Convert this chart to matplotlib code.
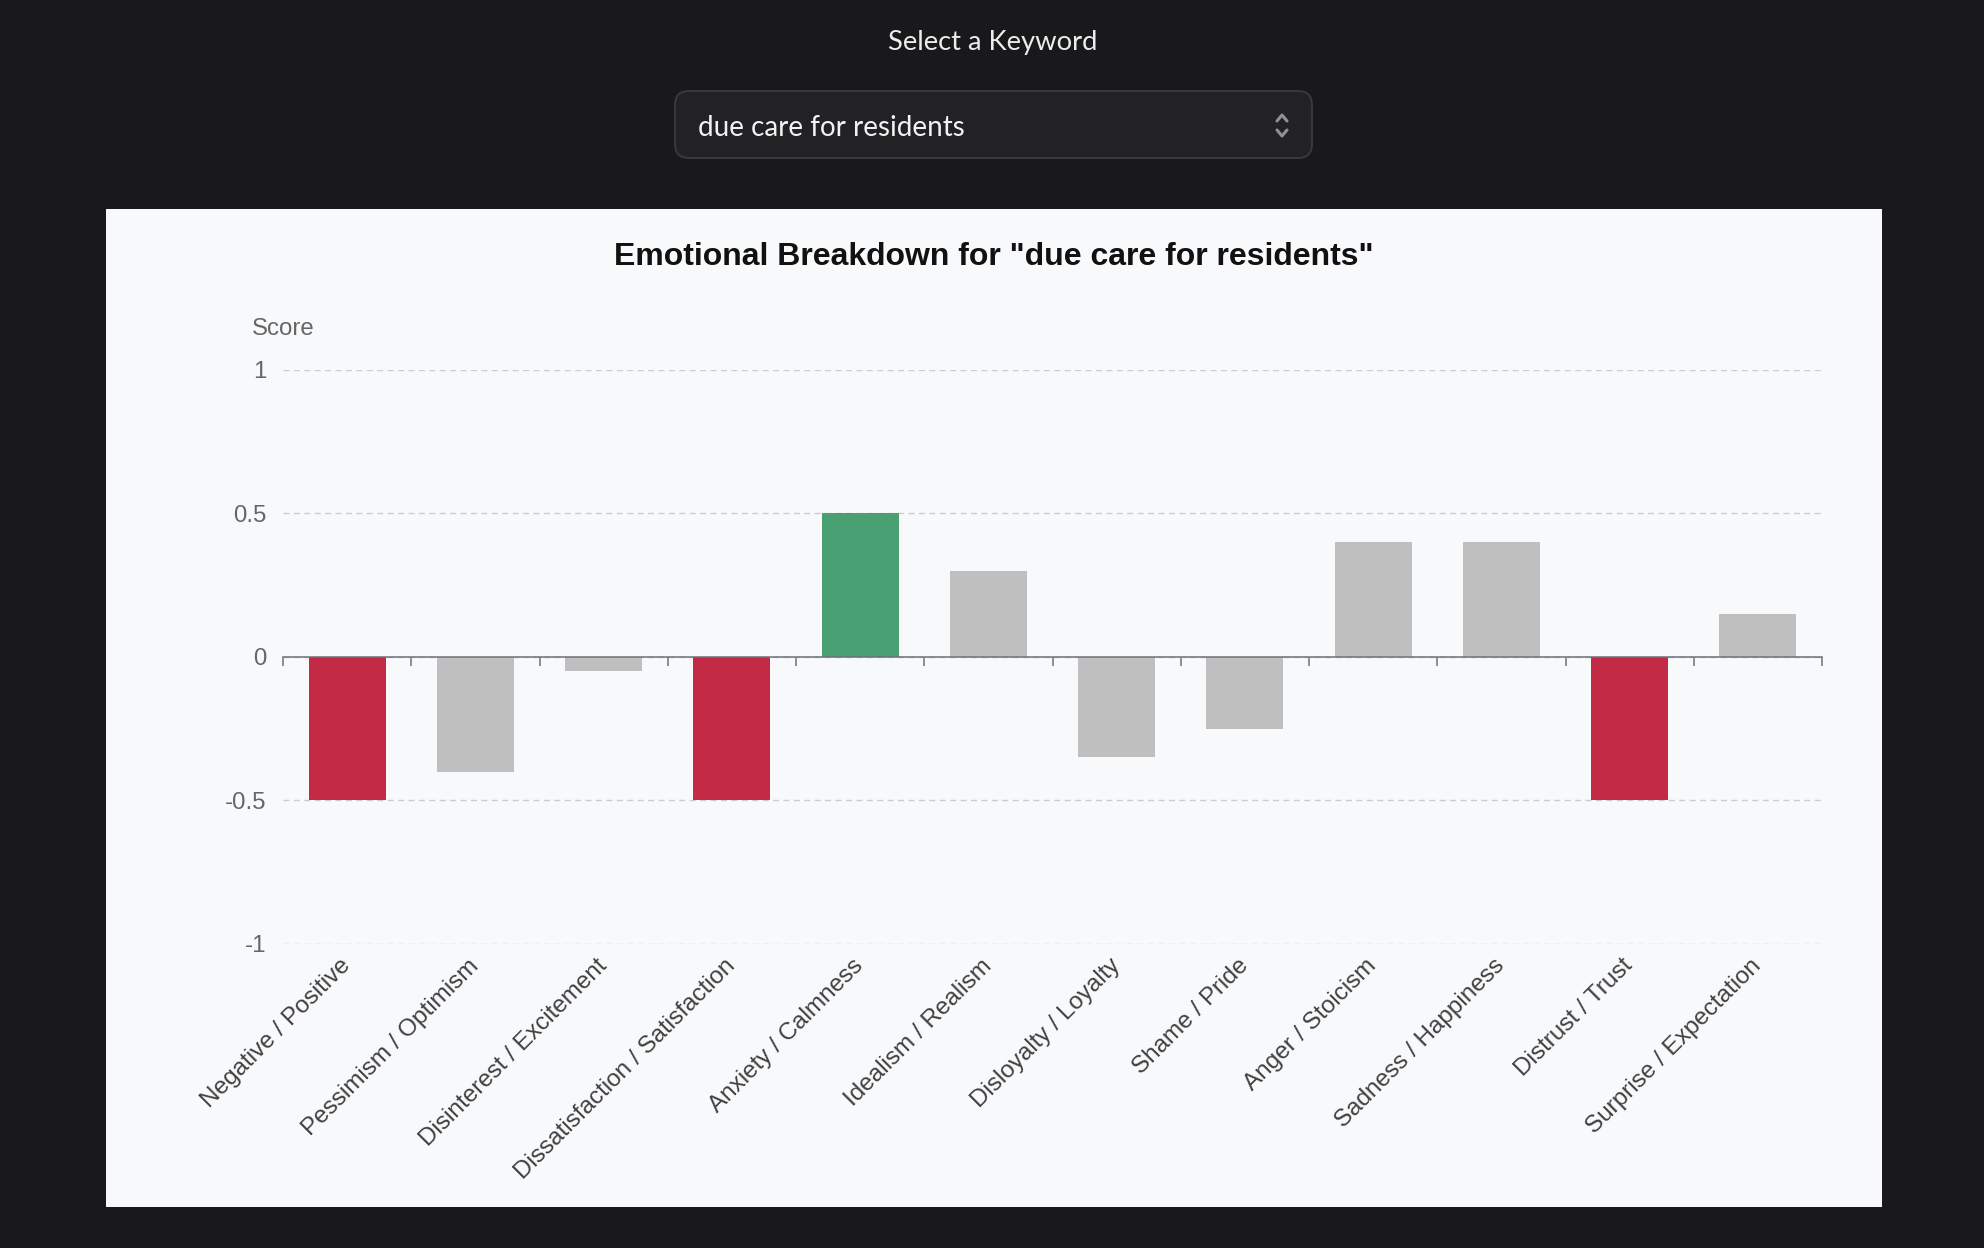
import numpy as np
import matplotlib
matplotlib.use("Agg")
import matplotlib.pyplot as plt
from matplotlib.patches import Rectangle, FancyBboxPatch

# data
keyword = "due care for residents"
categories = ["Negative / Positive", "Pessimism / Optimism", "Disinterest / Excitement",
              "Dissatisfaction / Satisfaction", "Anxiety / Calmness", "Idealism / Realism",
              "Disloyalty / Loyalty", "Shame / Pride", "Anger / Stoicism",
              "Sadness / Happiness", "Distrust / Trust", "Surprise / Expectation"]
scores = [-0.5, -0.4, -0.05, -0.5, 0.5, 0.3, -0.35, -0.25, 0.4, 0.4, -0.5, 0.15]
y_ticks = [-1, -0.5, 0, 0.5, 1]
y_tick_labels = ["-1", "-0.5", "0", "0.5", "1"]

RED = "#c22a45"
GREEN = "#48a073"
GRAY = "#bfbfbf"


def bar_color(v):
    if v <= -0.5:
        return RED
    if v >= 0.5:
        return GREEN
    return GRAY


W, H = 1984, 1248
fig = plt.figure(figsize=(W / 100, H / 100), dpi=100, facecolor="#19191b")

# page background layer in pixel coords
bg = fig.add_axes([0, 0, 1, 1])
bg.set_xlim(0, W)
bg.set_ylim(H, 0)
bg.axis("off")
bg.set_zorder(0)

bg.text(993, 42.5, "Select a Keyword", ha="center", va="center",
        fontfamily="Lato", fontsize=19.7, color="#ececec")
bg.add_patch(FancyBboxPatch((675, 91), 637, 67, boxstyle="round,pad=0,rounding_size=14",
                            facecolor="#222225", edgecolor="#3a3a3e", linewidth=1.4))
bg.text(698, 127.5, keyword, ha="left", va="center",
        fontfamily="Lato", fontsize=20, color="#f2f2f2")
bg.plot([1277, 1282, 1287], [121, 115, 121], color="#909096", lw=2.2, solid_capstyle="round")
bg.plot([1277, 1282, 1287], [130, 136, 130], color="#909096", lw=2.2, solid_capstyle="round")

bg.add_patch(Rectangle((106, 209), 1776, 998, facecolor="#f8f9fb", edgecolor="none"))

fig.text(994 / W, 1 - 257 / H, f'Emotional Breakdown for "{keyword}"', ha="center", va="center",
         fontfamily="Liberation Sans", fontweight="bold", fontsize=23, color="#111111")

# chart
ax = fig.add_axes([283 / W, 1 - 944 / H, (1822 - 283) / W, (944 - 369.5) / H])
ax.set_zorder(1)
ax.set_facecolor("none")

x = np.arange(len(categories))
ax.bar(x, scores, width=0.6, color=[bar_color(v) for v in scores], zorder=2)

ax.set_xlim(-0.5, len(categories) - 0.5)
ax.set_ylim(-1, 1)
ax.set_yticks(y_ticks, y_tick_labels)
ax.yaxis.grid(True, color="#cccccc", linewidth=1, linestyle=(0, (4.3, 3.2)), zorder=0)
ax.set_axisbelow(True)
ax.tick_params(axis="y", length=0, pad=12, labelsize=17.3, labelcolor="#666666")
for lab in ax.get_yticklabels():
    lab.set_fontfamily("Liberation Sans")

for s in ["left", "right", "top"]:
    ax.spines[s].set_visible(False)
ax.spines["bottom"].set_position(("data", 0))
ax.spines["bottom"].set_color("#6e7079")
ax.spines["bottom"].set_linewidth(1.1)
ax.spines["bottom"].set_zorder(3)
ax.set_xticks(np.arange(len(categories) + 1) - 0.5)
ax.tick_params(axis="x", direction="out", length=6.7, width=1.1, color="#6e7079", labelbottom=False)

# category labels below the plot area
sec = ax.secondary_xaxis("bottom")
sec.spines["bottom"].set_visible(False)
sec.set_xticks(x, categories)
sec.tick_params(axis="x", length=0, pad=13.5, labelsize=17.5, labelcolor="#404040")
for lab in sec.get_xticklabels():
    lab.set_rotation(45)
    lab.set_ha("right")
    lab.set_va("center")
    lab.set_rotation_mode("anchor")
    lab.set_fontfamily("Liberation Sans")

ax.text(0, 1 + 40.5 / 574.5, "Score", transform=ax.transAxes, ha="center", va="center",
        fontfamily="Liberation Sans", fontsize=17.3, color="#666666")

fig.savefig("out.png", dpi=100, facecolor=fig.get_facecolor())
